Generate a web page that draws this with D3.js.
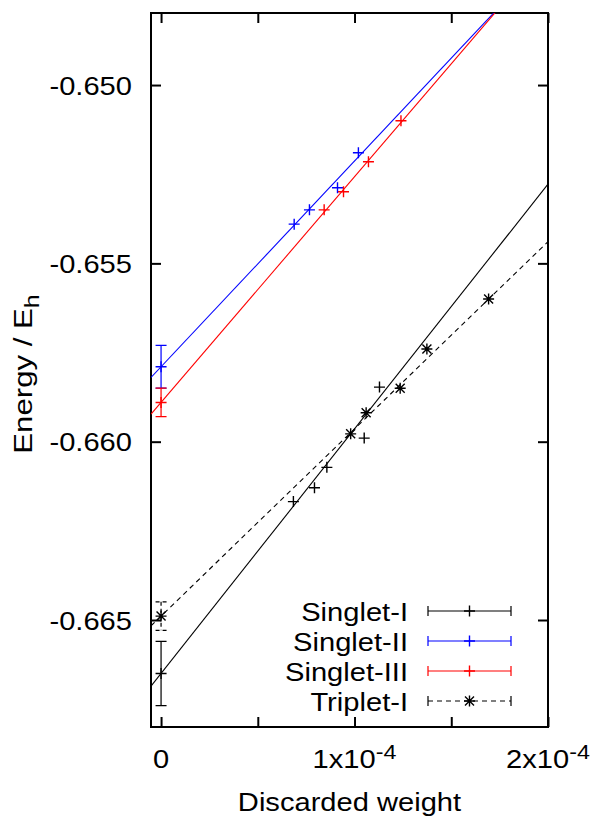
<!DOCTYPE html>
<html>
<head>
<meta charset="utf-8">
<script src="https://cdn.jsdelivr.net/npm/d3@7"></script>
<style>
  body { margin: 0; background: #fff; }
  text { font-family: "Liberation Sans", Arial, Helvetica, sans-serif; fill: #000; }
</style>
</head>
<body>
<svg id="chart" width="591" height="819"></svg>
<script>
// ---- series definitions ----
const seriesNames   = ["Singlet-I", "Singlet-II", "Singlet-III", "Triplet-I"];
const seriesColors  = ["#000000", "#0000ff", "#ff0000", "#000000"];
const seriesSymbols = ["plus", "plus", "plus", "star"];
const seriesDashed  = [false, false, false, true];

// DMRG energies (E_h) against discarded weight
const singlet1W = [6.84e-5, 7.93e-5, 8.57e-5, 1.050e-4, 1.129e-4];
const singlet1E = [-0.66168, -0.66129, -0.66072, -0.65990, -0.65847];
const singlet2W = [6.88e-5, 7.67e-5, 9.12e-5, 1.020e-4];
const singlet2E = [-0.65390, -0.65350, -0.65288, -0.65190];
const singlet3W = [8.43e-5, 9.43e-5, 1.072e-4, 1.240e-4];
const singlet3E = [-0.65350, -0.65299, -0.65215, -0.65100];
const triplet1W = [9.80e-5, 1.060e-4, 1.236e-4, 1.374e-4, 1.693e-4];
const triplet1E = [-0.65978, -0.65919, -0.65850, -0.65740, -0.65600];

// extrapolated energy at zero discarded weight and its error
const extrapE   = [-0.6665, -0.6579, -0.6589, -0.66489];
const extrapErr = [0.0009, 0.0006, 0.0004, 0.0004];
// slope dE/dw of the linear fits
const fitSlope  = [68.6, 57.7, 63.3, 52.5];

// axis ticks
const xTicks = [0, 5e-5, 1e-4, 1.5e-4, 2e-4];
const xTickLabels = [["0", null], null, ["1x10", "-4"], null, ["2x10", "-4"]];
const yTicks = [-0.650, -0.655, -0.660, -0.665];
const yTickLabels = ["-0.650", "-0.655", "-0.660", "-0.665"];

const seriesW = [singlet1W, singlet2W, singlet3W, triplet1W];
const seriesE = [singlet1E, singlet2E, singlet3E, triplet1E];

// ---- layout ----
const svg = d3.select("#chart");
const pLeft = 151, pRight = 548, pTop = 13, pBottom = 727;
const x = d3.scaleLinear().domain([-5.2e-6, 2e-4]).range([pLeft, pRight]);
const y = d3.scaleLinear().domain([-0.6680, -0.64798]).range([pBottom, pTop]);
const stretch = 1.12;   // horizontal widening of the lettering
const fs = 26;

svg.append("clipPath").attr("id", "plotClip")
  .append("rect").attr("x", pLeft).attr("y", pTop)
  .attr("width", pRight - pLeft).attr("height", pBottom - pTop);

// ---- axes (ticks pointing inward on all four sides) ----
function styleAxis(g) {
  g.select(".domain").remove();
  g.selectAll(".tick line").attr("stroke", "#000").attr("stroke-width", 2);
}
svg.append("g").attr("transform", `translate(${pLeft},0)`)
  .call(d3.axisLeft(y).tickValues(yTicks).tickSizeInner(-10).tickSizeOuter(0)
    .tickFormat((d, i) => yTickLabels[i]).tickPadding(19))
  .call(styleAxis)
  .call(g => g.selectAll(".tick text")
    .attr("font-size", fs).attr("font-family", null).attr("dy", "0.35em")
    .attr("transform", function () {
      const tx = +d3.select(this).attr("x");
      d3.select(this).attr("x", 0);
      return `translate(${tx},0) scale(${stretch},1)`;
    }));
svg.append("g").attr("transform", `translate(${pRight},0)`)
  .call(d3.axisRight(y).tickValues(yTicks).tickSizeInner(-10).tickSizeOuter(0).tickFormat(""))
  .call(styleAxis);
svg.append("g").attr("transform", `translate(0,${pBottom})`)
  .call(d3.axisBottom(x).tickValues(xTicks).tickSizeInner(-10).tickSizeOuter(0).tickFormat(""))
  .call(styleAxis);
svg.append("g").attr("transform", `translate(0,${pTop})`)
  .call(d3.axisTop(x).tickValues(xTicks).tickSizeInner(-10).tickSizeOuter(0).tickFormat(""))
  .call(styleAxis);
svg.selectAll("g").attr("font-family", null);

// x tick labels with superscript exponent
xTicks.forEach((v, i) => {
  const lab = xTickLabels[i];
  if (!lab) return;
  const t = svg.append("text")
    .attr("text-anchor", "middle").attr("font-size", fs)
    .attr("transform", `translate(${x(v)},768) scale(${stretch},1)`);
  t.append("tspan").text(lab[0]);
  if (lab[1]) t.append("tspan").attr("font-size", fs * 0.8).attr("dy", -9).text(lab[1]);
});

// border
svg.append("rect").attr("x", pLeft).attr("y", pTop)
  .attr("width", pRight - pLeft).attr("height", pBottom - pTop)
  .attr("fill", "none").attr("stroke", "#000").attr("stroke-width", 2);

// axis titles
svg.append("text").attr("text-anchor", "middle").attr("font-size", fs)
  .attr("transform", `translate(${(pLeft + pRight) / 2},811) scale(${stretch},1)`)
  .text("Discarded weight");
const yl = svg.append("text").attr("text-anchor", "middle").attr("font-size", fs)
  .attr("transform", `translate(32,374) rotate(-90) scale(1.2,1)`);
yl.append("tspan").text("Energy / E");
yl.append("tspan").attr("font-size", fs * 0.8).attr("dy", 7).text("h");

// ---- data ----
const plot = svg.append("g").attr("clip-path", "url(#plotClip)");

function symbolPath(kind, cx, cy) {
  const p = d3.path();
  const r = 5.5;
  p.moveTo(cx - r, cy); p.lineTo(cx + r, cy);
  p.moveTo(cx, cy - r); p.lineTo(cx, cy + r);
  if (kind === "star") {
    const q = 4.5;
    p.moveTo(cx - q, cy - q); p.lineTo(cx + q, cy + q);
    p.moveTo(cx - q, cy + q); p.lineTo(cx + q, cy - q);
  }
  return p.toString();
}

seriesNames.forEach((name, i) => {
  const col = seriesColors[i];
  const dash = seriesDashed[i] ? "5,4" : null;
  // linear fit across the full x range
  const xd = x.domain();
  plot.append("line")
    .attr("x1", x(xd[0])).attr("y1", y(extrapE[i] + fitSlope[i] * xd[0]))
    .attr("x2", x(xd[1])).attr("y2", y(extrapE[i] + fitSlope[i] * xd[1]))
    .attr("stroke", col).attr("stroke-width", 1.1).attr("stroke-dasharray", dash);
  // extrapolated value with error bar
  const ex = x(0), e0 = extrapE[i], er = extrapErr[i];
  plot.append("path")
    .attr("d", `M${ex},${y(e0 + er)}V${y(e0 - er)}M${ex - 5.5},${y(e0 + er)}h11M${ex - 5.5},${y(e0 - er)}h11`)
    .attr("fill", "none").attr("stroke", col).attr("stroke-width", 1.2)
    .attr("stroke-dasharray", dash ? "4,3" : null);
  plot.append("path").attr("d", symbolPath(seriesSymbols[i], ex, y(e0)))
    .attr("stroke", col).attr("stroke-width", 1.4).attr("fill", "none");
  // computed points
  plot.selectAll(null).data(d3.zip(seriesW[i], seriesE[i])).join("path")
    .attr("d", d => symbolPath(seriesSymbols[i], x(d[0]), y(d[1])))
    .attr("stroke", col).attr("stroke-width", 1.4).attr("fill", "none");
});

// ---- legend ----
const legX0 = 428, legX1 = 511, legTextX = 408, legY0 = 611, legDy = 30;
seriesNames.forEach((name, i) => {
  const ly = legY0 + i * legDy;
  const col = seriesColors[i];
  const dash = seriesDashed[i] ? "5,4" : null;
  svg.append("text").attr("text-anchor", "end").attr("font-size", fs)
    .attr("transform", `translate(${legTextX},${ly + 9.5}) scale(${stretch},1)`)
    .text(name);
  svg.append("path")
    .attr("d", `M${legX0},${ly}H${legX1}`)
    .attr("stroke", col).attr("stroke-width", 1.2).attr("stroke-dasharray", dash);
  svg.append("path")
    .attr("d", `M${legX0},${ly - 5}V${ly + 5}M${legX1},${ly - 5}V${ly + 5}`)
    .attr("stroke", col).attr("stroke-width", 1.2);
  svg.append("path").attr("d", symbolPath(seriesSymbols[i], (legX0 + legX1) / 2, ly))
    .attr("stroke", col).attr("stroke-width", 1.4).attr("fill", "none");
});
</script>
</body>
</html>
